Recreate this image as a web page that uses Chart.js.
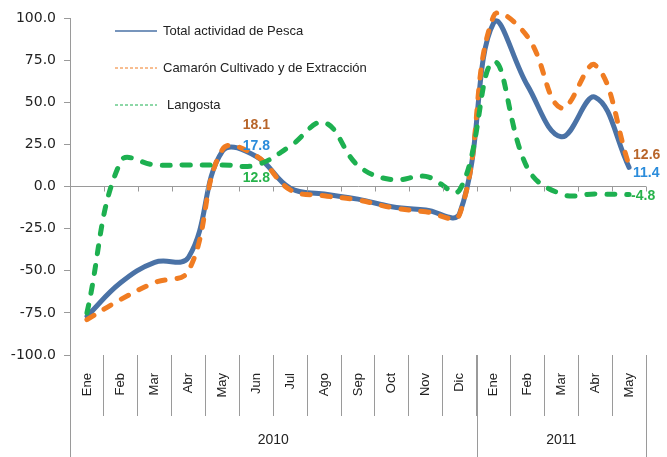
<!DOCTYPE html>
<html>
<head>
<meta charset="utf-8">
<script src="https://cdn.jsdelivr.net/npm/chart.js@4.4.1/dist/chart.umd.min.js"></script>
<style>
  html, body { margin: 0; padding: 0; background: #fff; }
  #wrap { width: 667px; height: 457px; }
</style>
</head>
<body>
<div id="wrap"><canvas id="chart-pesca" width="667" height="457"></canvas></div>
<script>
'use strict';

/* ---------- data ---------- */
const MONTHS = ['Ene', 'Feb', 'Mar', 'Abr', 'May', 'Jun', 'Jul', 'Ago', 'Sep', 'Oct', 'Nov', 'Dic',
                'Ene', 'Feb', 'Mar', 'Abr', 'May'];
const YEARS = ['2010', '2011'];
const YEAR_SPANS = [12, 5];

const TOTAL_PESCA = [-77, -57, -45, -42, 21, 17.8, -1, -4.5, -7.5, -12, -14, -16, 97, 60, 29.5, 53, 11.4];
const CAMARON     = [-79, -67, -57, -50, 22, 18.1, -2, -5.5, -8, -12.5, -15, -16.5, 101, 89, 46.5, 72, 12.6];
const LANGOSTA    = [-75, 15, 12.8, 12.8, 12.8, 12.8, 24, 38, 12.5, 4, 6, -2, 74, 11, -4.5, -4.5, -4.8];

const Y_TICKS = [-100, -75, -50, -25, 0, 25, 50, 75, 100];

const FONT = "'Liberation Sans', Arial, sans-serif";
const AXIS_GREY = '#9a9a9a';

/* ---------- plugins ---------- */

// legend drawn inside the plot, top-left, like the original
const insideLegend = {
  id: 'insideLegend',
  afterDraw(chart) {
    const ctx = chart.ctx;
    const rows = [31, 68, 105];
    ctx.save();
    chart.data.datasets.forEach((ds, i) => {
      const y = rows[i];
      ctx.strokeStyle = ds.borderColor;
      ctx.lineWidth = i === 0 ? 1.5 : 1;
      ctx.setLineDash(i === 0 ? [] : [3, 2]);
      ctx.beginPath();
      ctx.moveTo(115, y);
      ctx.lineTo(157, y);
      ctx.stroke();
      ctx.setLineDash([]);
      ctx.fillStyle = '#222';
      ctx.font = '13px ' + FONT;
      ctx.textBaseline = 'middle';
      ctx.textAlign = 'left';
      ctx.fillText(ds.label, i === 2 ? 167 : 163, y);
    });
    ctx.restore();
  }
};

// tick marks on the zero line + the year level of the category axis
const yearAxis = {
  id: 'yearAxis',
  afterDraw(chart) {
    const ctx = chart.ctx;
    const x = chart.scales.x;
    const y = chart.scales.y;
    const half = (x.getPixelForValue(1) - x.getPixelForValue(0)) / 2;
    const y0 = y.getPixelForValue(0);
    ctx.save();
    ctx.strokeStyle = AXIS_GREY;
    ctx.lineWidth = 1;

    for (let i = 0; i <= MONTHS.length; i++) {
      const px = Math.round(x.getPixelForValue(i) - half) + 0.5;
      ctx.beginPath();
      ctx.moveTo(px, y0);
      ctx.lineTo(px, y0 + 5);
      ctx.stroke();
    }

    let start = 0;
    ctx.fillStyle = '#222';
    ctx.font = '14px ' + FONT;
    ctx.textAlign = 'center';
    ctx.textBaseline = 'middle';
    const bottom = chart.chartArea.bottom;
    const edges = [0];
    YEAR_SPANS.forEach((n, k) => {
      const left = x.getPixelForValue(start) - half;
      const right = x.getPixelForValue(start + n - 1) + half;
      ctx.fillText(YEARS[k], (left + right) / 2, 440);
      start += n;
      edges.push(start);
    });
    edges.forEach(e => {
      const px = Math.round(x.getPixelForValue(e) - half) + 0.5;
      ctx.beginPath();
      ctx.moveTo(px, bottom);
      ctx.lineTo(px, chart.height);
      ctx.stroke();
    });
    ctx.restore();
  }
};

// value tags on Jun 2010 and May 2011
const TAGS = [
  { ds: 1, idx: 5, dx: 0, dy: -31, align: 'center', color: '#B8652A' },
  { ds: 0, idx: 5, dx: 0, dy: -10, align: 'center', color: '#2B8CDB' },
  { ds: 2, idx: 5, dx: 0, dy: 13, align: 'center', color: '#27B34B' },
  { ds: 1, idx: 16, dx: 4, dy: -10, align: 'left', color: '#B8652A' },
  { ds: 0, idx: 16, dx: 4, dy: 6, align: 'left', color: '#2B8CDB' },
  { ds: 2, idx: 16, dx: 2, dy: 2, align: 'left', color: '#27B34B' }
];

const valueTags = {
  id: 'valueTags',
  afterDatasetsDraw(chart) {
    const ctx = chart.ctx;
    ctx.save();
    ctx.font = 'bold 14px ' + FONT;
    ctx.textBaseline = 'middle';
    TAGS.forEach(t => {
      const pt = chart.getDatasetMeta(t.ds).data[t.idx];
      const v = chart.data.datasets[t.ds].data[t.idx];
      ctx.fillStyle = t.color;
      ctx.textAlign = t.align;
      ctx.fillText(v.toFixed(1), pt.x + t.dx, pt.y + t.dy);
    });
    ctx.restore();
  }
};

/* ---------- chart ---------- */
function lineSet(label, data, color, dash, order) {
  return {
    label,
    data,
    borderColor: color,
    backgroundColor: color,
    borderWidth: 5,
    borderDash: dash,
    borderCapStyle: 'round',
    borderJoinStyle: 'round',
    pointRadius: 0,
    tension: 0.4,
    fill: false,
    clip: false,
    order
  };
}

const ctx = document.getElementById('chart-pesca').getContext('2d');

new Chart(ctx, {
  type: 'line',
  data: {
    labels: MONTHS,
    datasets: [
      lineSet('Total actividad de Pesca', TOTAL_PESCA, '#4A72A6', [], 3),
      lineSet('Camarón Cultivado y de Extracción', CAMARON, '#F07C22', [8, 12], 2),
      lineSet('Langosta', LANGOSTA, '#1DB050', [8, 12], 1)
    ]
  },
  options: {
    responsive: false,
    animation: false,
    layout: { padding: { top: 18, right: 21, left: 0, bottom: 0 } },
    elements: { line: { capBezierPoints: false } },
    plugins: {
      legend: { display: false },
      tooltip: { enabled: false }
    },
    scales: {
      x: {
        offset: true,
        grid: {
          offset: true,
          drawOnChartArea: false,
          drawTicks: true,
          tickLength: 61,
          color: AXIS_GREY
        },
        border: { display: false },
        ticks: {
          autoSkip: false,
          minRotation: 90,
          maxRotation: 90,
          padding: -43,
          color: '#222',
          font: { family: FONT, size: 13 }
        },
        afterFit: s => { s.height = 102; }
      },
      y: {
        min: -100,
        max: 100,
        afterBuildTicks: s => { s.ticks = Y_TICKS.map(v => ({ value: v })); },
        grid: {
          color: c => (c.tick && c.tick.value === 0 ? AXIS_GREY : 'rgba(0,0,0,0)'),
          tickColor: AXIS_GREY,
          tickLength: 6
        },
        border: { display: true, color: AXIS_GREY },
        ticks: {
          padding: 8,
          color: '#222',
          font: { family: "'DejaVu Sans', sans-serif", size: 14 },
          callback: v => v.toFixed(1)
        },
        afterFit: s => { s.width = 70; }
      }
    }
  },
  plugins: [insideLegend, yearAxis, valueTags]
});
</script>
</body>
</html>
